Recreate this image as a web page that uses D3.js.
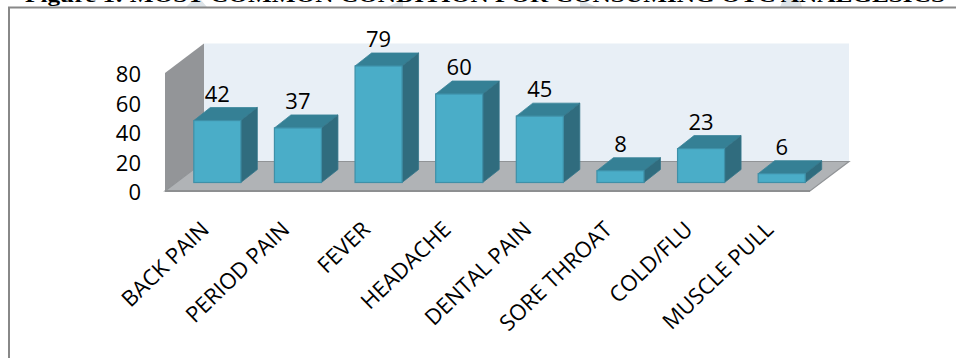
<!DOCTYPE html>
<html><head><meta charset="utf-8">
<script src="https://cdn.jsdelivr.net/npm/d3@7"></script>
<style>html,body{margin:0;padding:0;background:#fff}svg{display:block}</style>
</head><body><div id="c"></div>
<script>
const categories=["BACK PAIN","PERIOD PAIN","FEVER","HEADACHE","DENTAL PAIN","SORE THROAT","COLD/FLU","MUSCLE PULL"];
const values=[42,37,79,60,45,8,23,6];
const yTicks=[0,20,40,60,80];
const titleText="Figure 1: MOST COMMON CONDITION FOR CONSUMING OTC ANALGESICS";

const W=956,H=358,dx=16.5,dy=-13,wx=39,wy=-29.5;
const svg=d3.select("#c").append("svg").attr("width",W).attr("height",H);
const font='"Open Sans",sans-serif';

[[186,207,193,201],[387,403,403,403],[580,597,580,580],[780,802,783,800]].forEach(d=>
  svg.append("path").attr("d",`M${d[0]},7L${d[2]},0L${d[3]},0L${d[1]},7Z`).attr("fill","#dde3e7"));
svg.append("text").attr("x",25).attr("y",2).attr("font-family",'"Liberation Serif",serif')
  .attr("font-weight","bold").attr("font-size",18).attr("textLength",920).attr("lengthAdjust","spacingAndGlyphs")
  .attr("fill","#000").text(titleText);
svg.append("path").attr("d",`M${W},7.5H9V${H}`).attr("fill","none").attr("stroke","#888").attr("stroke-width",2);

const x=d3.scaleBand().domain(categories).range([177,822]).paddingInner(.417).paddingOuter(.2085);
const yBar=d3.scaleLinear().domain([0,80]).range([182.5,64.5]);
const yAxis=d3.scaleLinear().domain([0,80]).range([191,73]);

const fx0=165,fx1=810,fy0=yAxis(0),fy1=yAxis(80);
const poly=(p,f)=>svg.append("polygon").attr("points",p.map(q=>q.join(",")).join(" ")).attr("fill",f);
poly([[fx0+wx,fy1+wy],[fx1+wx,fy1+wy],[fx1+wx,fy0+wy],[fx0+wx,fy0+wy]],"#e8eff6");
poly([[fx0,fy1],[fx0+wx,fy1+wy],[fx0+wx,fy0+wy],[fx0,fy0]],"#939598");
poly([[fx0,fy0],[fx0+wx,fy0+wy],[fx1+wx,fy0+wy],[fx1,fy0]],"#b0b3b6");
svg.append("path").attr("d",`M${fx0},${fy0}L${fx0+wx},${fy0+wy}H${fx1+wx}L${fx1},${fy0}Z`).attr("fill","none").attr("stroke","#909396").attr("stroke-width",1.2);
svg.append("line").attr("x1",fx0).attr("x2",fx1).attr("y1",fy0).attr("y2",fy0).attr("stroke","#8d8f91").attr("stroke-width",2);

const bars=svg.append("g").selectAll("g").data(values).join("g");
const bw=x.bandwidth(),base=yBar(0);
bars.append("polygon").attr("fill","#358095").attr("stroke","#3a8499").attr("stroke-width",.8)
  .attr("points",(d,i)=>{const l=x(categories[i]),t=yBar(d);return [[l,t],[l+dx,t+dy],[l+bw+dx,t+dy],[l+bw,t]].join(" ")});
bars.append("polygon").attr("fill","#306c7e").attr("stroke","#33768a").attr("stroke-width",.8)
  .attr("points",(d,i)=>{const l=x(categories[i])+bw,t=yBar(d);return [[l,t],[l+dx,t+dy],[l+dx,base+dy],[l,base]].join(" ")});
bars.append("rect").attr("fill","#4aadc8").attr("stroke","#3e90a8").attr("stroke-width",1.2)
  .attr("x",(d,i)=>x(categories[i])).attr("y",d=>yBar(d)).attr("width",bw).attr("height",d=>base-yBar(d));
bars.append("text").attr("text-anchor","middle").attr("font-family",font).attr("font-size",22).attr("fill","#000")
  .attr("x",(d,i)=>x(categories[i])+bw/2).attr("y",d=>yBar(d)-19).text(d=>d);

const ax=svg.append("g").attr("transform","translate(141,0)")
  .call(d3.axisLeft(yAxis).tickValues(yTicks).tickSize(0).tickPadding(0));
ax.select(".domain").remove();
ax.selectAll("text").attr("font-family",font).attr("font-size",22).attr("fill","#000").attr("dy",".4em");

svg.append("g").selectAll("text").data(categories).join("text")
  .attr("text-anchor","end").attr("font-family",font).attr("font-size",22).attr("fill","#000")
  .attr("transform",d=>`translate(${x(d)+bw/2-7},231) rotate(-44)`).text(d=>d);
</script></body></html>
